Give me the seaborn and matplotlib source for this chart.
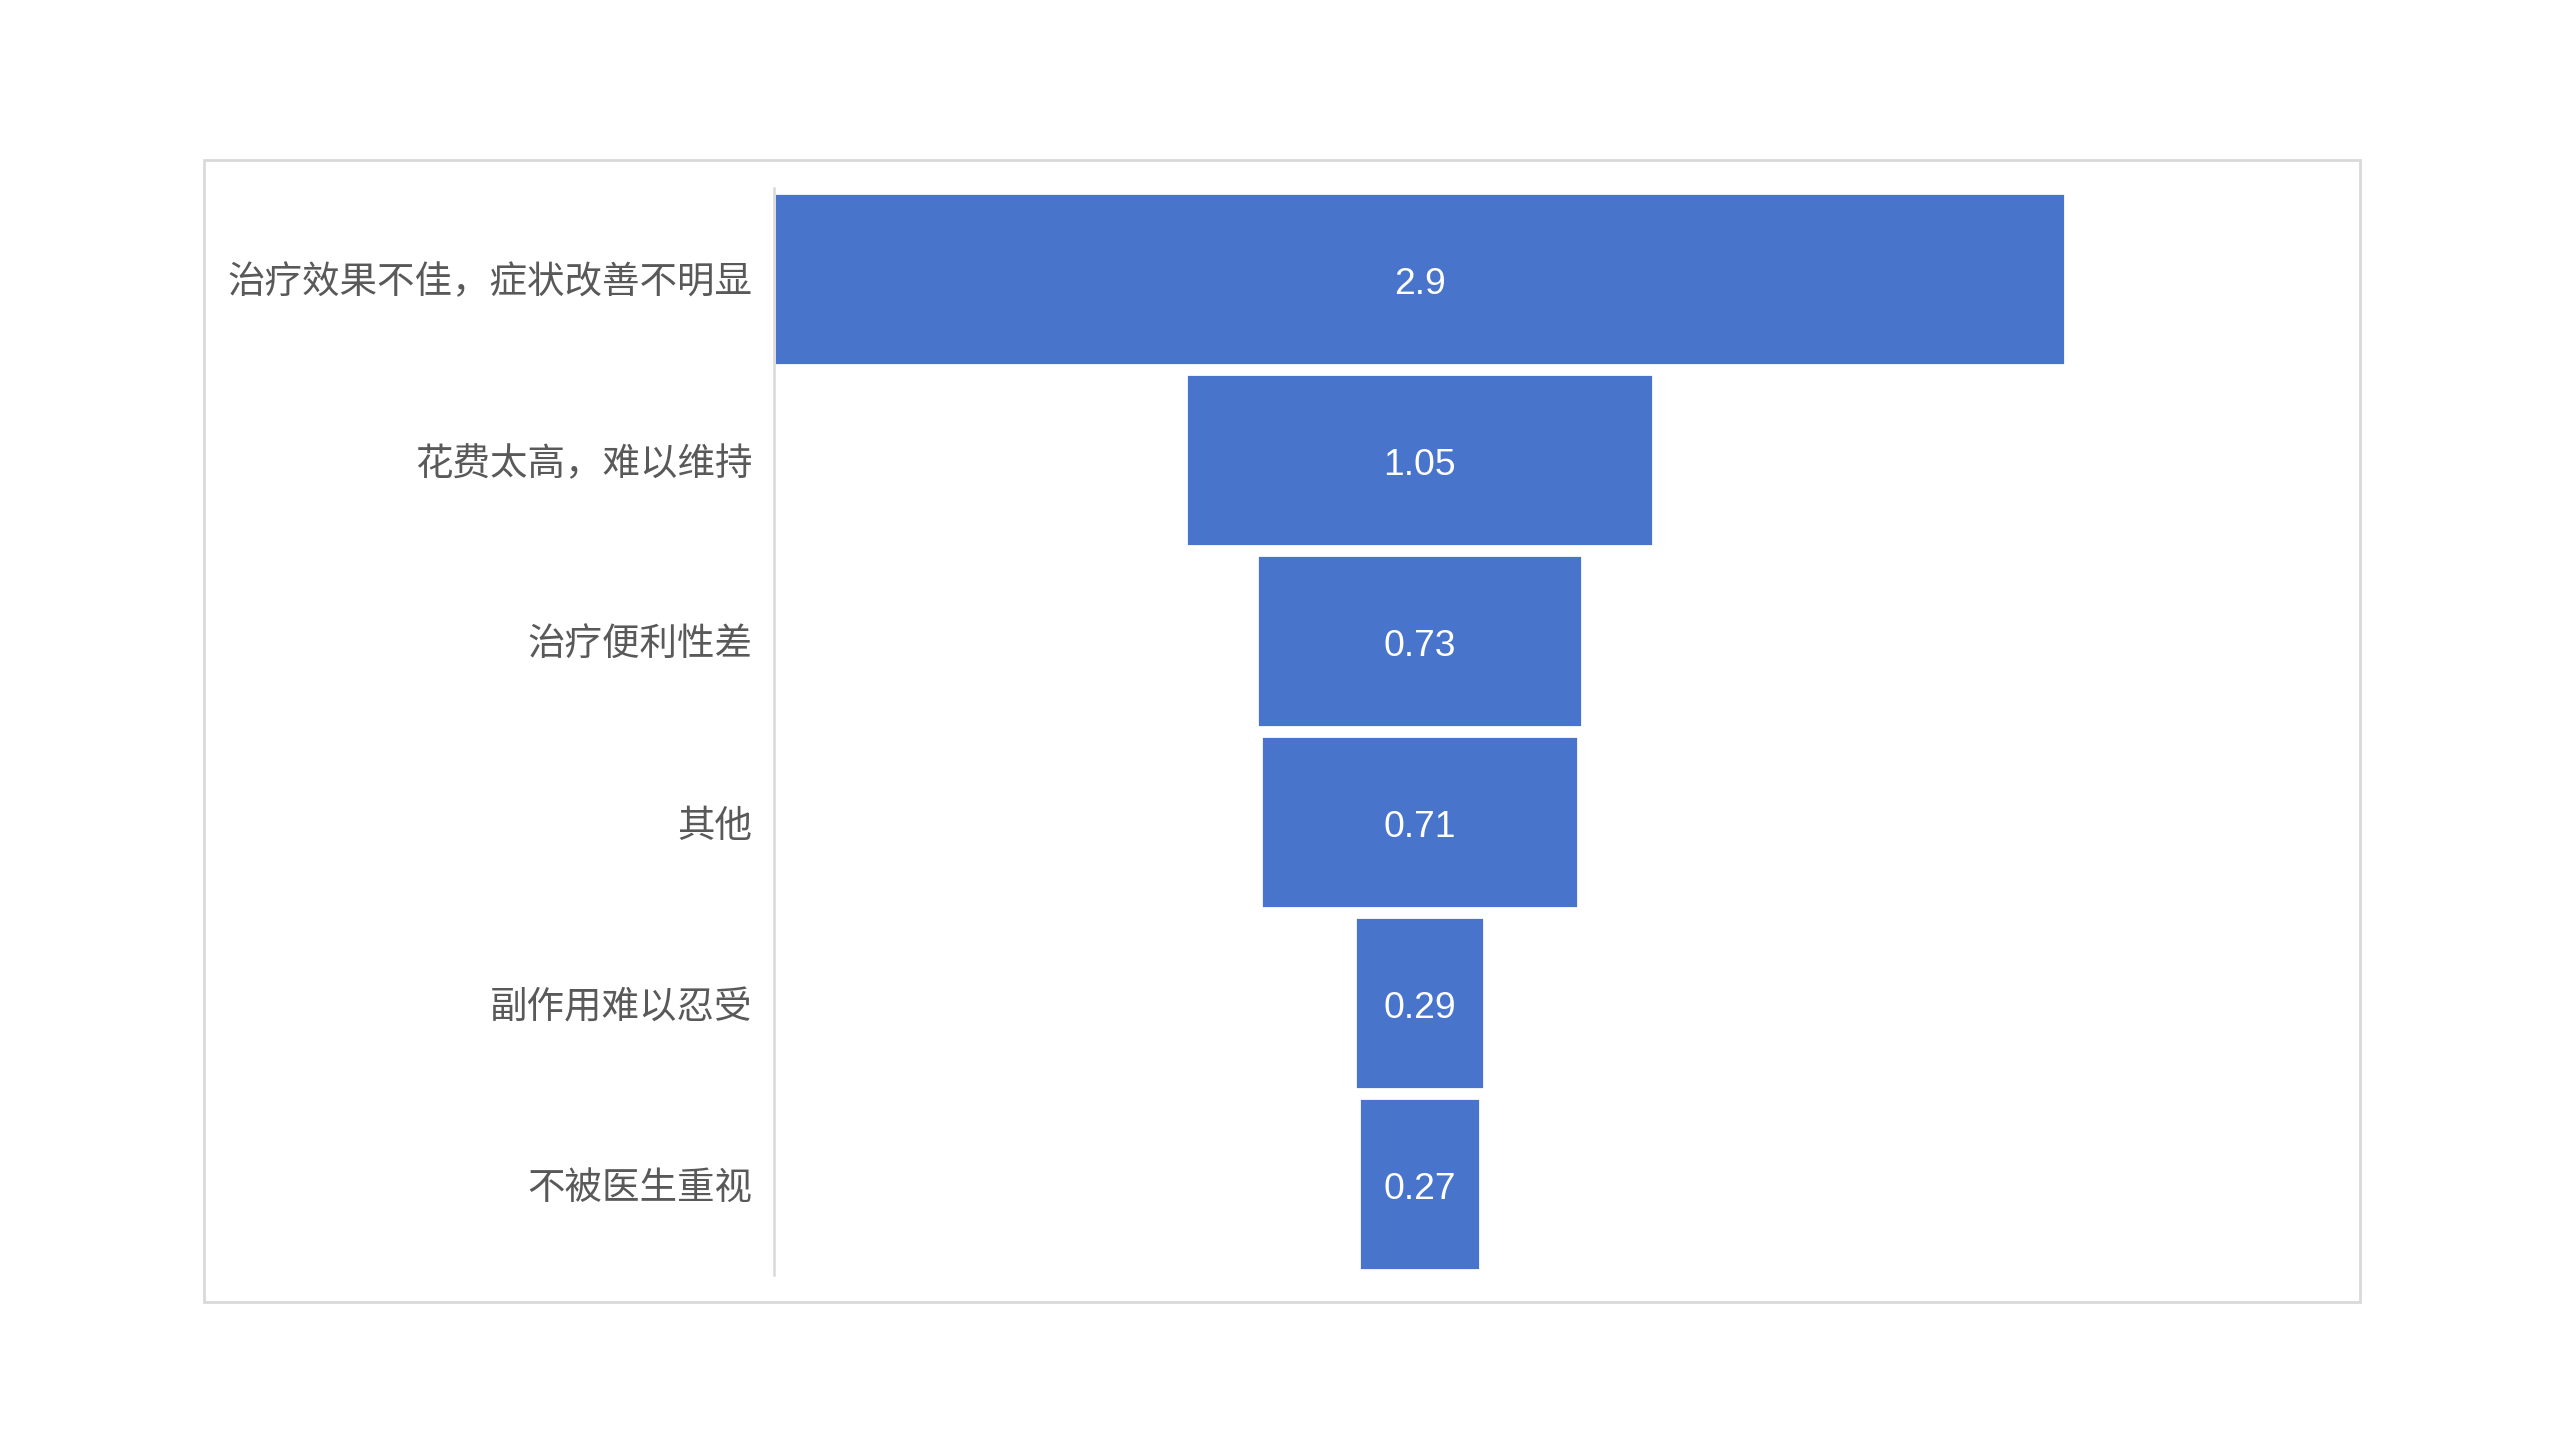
import matplotlib
matplotlib.use("Agg")
import matplotlib.pyplot as plt
import seaborn as sns
import pandas as pd
from matplotlib.patches import Rectangle

reasons = ["治疗效果不佳，症状改善不明显", "花费太高，难以维持", "治疗便利性差",
           "其他", "副作用难以忍受", "不被医生重视"]
values = [2.9, 1.05, 0.73, 0.71, 0.29, 0.27]

sns.set_style("white")
plt.rcParams['font.family'] = ['Noto Sans CJK SC', 'DejaVu Sans']

fig = plt.figure(figsize=(12.8, 7.2), dpi=200)
ax = fig.add_axes([0.3023, 0.1146, 0.5044, 0.8694 - 0.1146])

# chart area border
fig.patches.append(Rectangle((0.0797, 0.0958), 0.9219 - 0.0797, 0.8889 - 0.0958,
                             transform=fig.transFigure, fill=False,
                             edgecolor='#d9d9d9', linewidth=1.0))

df = pd.DataFrame({'reason': reasons, 'value': values})
sns.barplot(data=df, x='value', y='reason', color='#4874CB', saturation=1,
            width=0.95, ax=ax, orient='h')

# centre each bar to make the funnel
for p in ax.patches:
    p.set_x(-p.get_width() / 2)

texts = ax.bar_label(ax.containers[0], labels=['%g' % v for v in values], label_type='center',
                     color='white', fontsize=13.4, family=['Liberation Sans', 'DejaVu Sans'])
for t in texts:
    t.xyann = (0, -2.0)

half = max(values) / 2
ax.set_xlim(-half, half)
ax.set_ylim(len(values) - 0.5, -0.5)
ax.set_xlabel('')
ax.set_ylabel('')
ax.set_xticks([])
ax.tick_params(axis='y', length=0, pad=7.8, labelsize=13.5, labelcolor='#595959')

for s in ['top', 'right', 'bottom']:
    ax.spines[s].set_visible(False)
ax.spines['left'].set_color('#d9d9d9')
ax.spines['left'].set_linewidth(0.9)

fig.savefig('out.png', dpi=200, facecolor='white')
